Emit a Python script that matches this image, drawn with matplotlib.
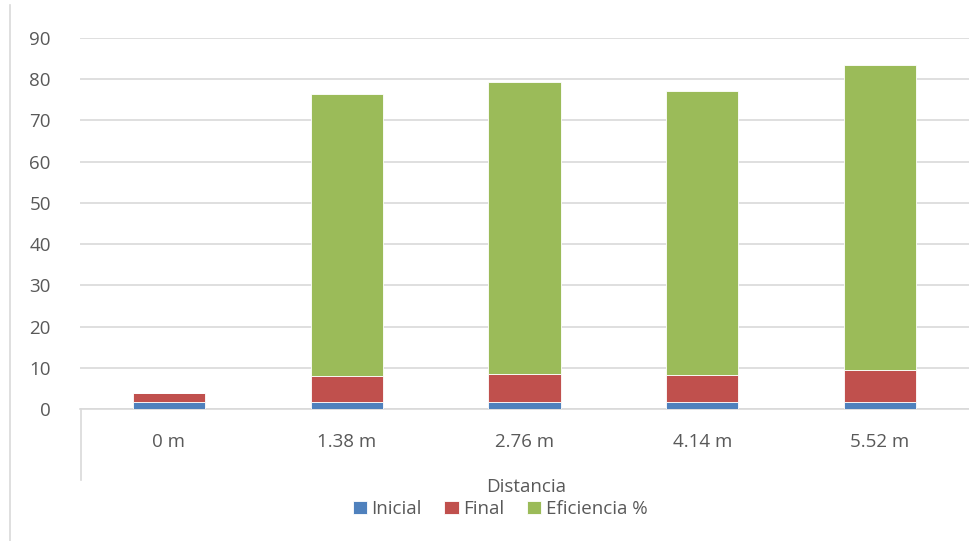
import numpy as np
import matplotlib.pyplot as plt
from matplotlib.lines import Line2D

plt.rcParams['font.family'] = ['Open Sans', 'DejaVu Sans']

# Data
categories = ["0 m", "1.38 m", "2.76 m", "4.14 m", "5.52 m"]
inicial = [1.8, 1.8, 1.8, 1.8, 1.8]
final = [2.1, 6.3, 6.8, 6.45, 7.7]
eficiencia = [0.0, 68.2, 70.8, 69.0, 74.0]

blue = '#4F81BD'
red = '#C0504D'
green = '#9BBB59'
grey_txt = '#595959'
grid_col = '#D9D9D9'

fig = plt.figure(figsize=(9.69, 5.41), dpi=100)
ax = fig.add_axes([80 / 969, 1 - 409 / 541, 889 / 969, (409 - 38) / 541])

x = np.arange(len(categories))
w = 0.405
bottom2 = np.array(inicial) + np.array(final)
ax.bar(x, inicial, w, color=blue, edgecolor='white', linewidth=0.6, label='Inicial', zorder=3)
ax.bar(x, final, w, bottom=inicial, color=red, edgecolor='white', linewidth=0.6, label='Final', zorder=3)
ax.bar(x, eficiencia, w, bottom=bottom2, color=green, edgecolor='white', linewidth=0.6, label='Eficiencia %', zorder=3)

ax.set_xlim(-0.5, len(categories) - 0.5)
ax.set_ylim(0, 90)
ax.set_yticks(range(0, 91, 10))
ax.yaxis.grid(True, color=grid_col, linewidth=1.2, zorder=0)
ax.set_axisbelow(True)

for s in ['top', 'right', 'left']:
    ax.spines[s].set_visible(False)
ax.spines['bottom'].set_color(grid_col)
ax.spines['bottom'].set_linewidth(1.2)

ax.set_xticks(x)
ax.set_xticklabels(categories)
ax.tick_params(axis='both', length=0, labelsize=13.5, colors=grey_txt)
ax.tick_params(axis='x', pad=17)
ax.tick_params(axis='y', pad=21)

# axis title placed by hand, just above the legend
fig.text(526 / 969, 1 - 487 / 541, 'Distancia', ha='center', va='center', fontsize=13.5, color=grey_txt)

# category axis box line and chart border
fig.add_artist(Line2D([81 / 969, 81 / 969], [1 - 409 / 541, 1 - 480 / 541], color=grid_col, linewidth=1.2))
fig.add_artist(Line2D([10 / 969, 10 / 969], [1 - 5 / 541, 0], color=grid_col, linewidth=1.2))

leg = fig.legend(loc='center', bbox_to_anchor=(500 / 969, 1 - 509 / 541), ncol=3, frameon=False,
                 fontsize=13.5, handlelength=0.75, handleheight=0.75, handletextpad=0.25, columnspacing=1.2,
                 borderpad=0)
for t in leg.get_texts():
    t.set_color(grey_txt)

fig.savefig('out.png', dpi=100)
